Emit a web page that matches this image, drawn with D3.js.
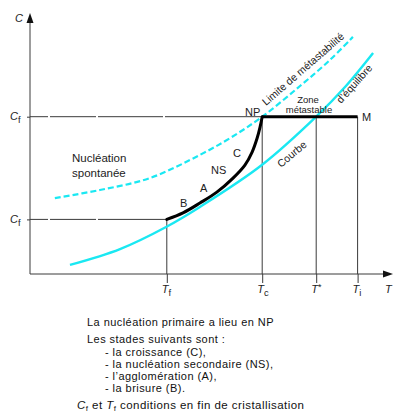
<!DOCTYPE html>
<html>
<head>
<meta charset="utf-8">
<script src="https://cdn.jsdelivr.net/npm/d3@7/dist/d3.min.js"></script>
<style>
  html, body { margin: 0; padding: 0; background: #fff; }
  svg { display: block; font-family: "Liberation Sans", Arial, sans-serif; }
</style>
</head>
<body>
<svg id="chart" width="395" height="412"></svg>
<script>
// Characteristic temperatures and concentrations (arbitrary units, 0-100)
const tempNames = ["Tf", "Tc", "T*", "Ti"];
const tempValues = [38, 64.5, 79.5, 91];
const concNames = ["Cf", "Ci"];
const concValues = [21, 60.5];

// Curve of equilibrium (solubility)
const eqT = [11.1, 25, 37.8, 47.2, 64.4, 79.5, 87.5, 95.3];
const eqC = [3.5, 9.6, 18.1, 25.8, 41.9, 60.5, 71.9, 85.0];

// Limit of metastability (supersolubility)
const limT = [6.9, 19.4, 33.3, 47.2, 55.6, 64.5, 75, 83.3, 89.7];
const limC = [29.2, 32.3, 36.9, 45.8, 52.3, 60.5, 72.3, 82.3, 91.2];

// Crystallisation path from NP down to the final point (Tf, Cf)
const pathT = [38, 42.5, 47.2, 51.9, 56.4, 59.7, 61.7, 63.1, 63.9, 64.5];
const pathC = [21, 23.5, 27.3, 31.5, 36.9, 41.9, 46.9, 52.3, 56.5, 60.5];

const svg = d3.select("#chart");
const x = d3.scaleLinear().domain([0, 100]).range([30, 390]);
const y = d3.scaleLinear().domain([0, 100]).range([274, 14]);

const ink = "#3a3a3a";
const cyan = "#1ae8f2";
const zip = (a, b) => a.map((v, i) => [v, b[i]]);
const line = d3.line().x(d => x(d[0])).y(d => y(d[1])).curve(d3.curveCatmullRom.alpha(0.5));

const T = Object.fromEntries(tempNames.map((n, i) => [n, tempValues[i]]));
const C = Object.fromEntries(concNames.map((n, i) => [n, concValues[i]]));

// Guide lines
const guide = svg.append("g").attr("stroke", ink).attr("stroke-width", 1).attr("fill", "none");
guide.append("line").attr("x1", x(0)).attr("x2", x(T.Tc)).attr("y1", y(C.Ci)).attr("y2", y(C.Ci))
  .attr("stroke-dasharray", "18,2,46,2,65,2,400");
guide.append("line").attr("x1", x(0)).attr("x2", x(T.Tf)).attr("y1", y(C.Cf)).attr("y2", y(C.Cf))
  .attr("stroke-dasharray", "18,2,46,2,400");
[["Tf", "Cf"], ["Tc", "Ci"], ["T*", "Ci"], ["Ti", "Ci"]].forEach(([t, c]) => {
  guide.append("line").attr("x1", x(T[t])).attr("x2", x(T[t])).attr("y1", y(C[c])).attr("y2", y(0));
});

// Axes
const xAxis = d3.axisBottom(x).tickValues(tempValues).tickSize(9).tickFormat("");
const gx = svg.append("g").attr("transform", `translate(0,${y(0)})`).call(xAxis);
gx.select(".domain").attr("d", `M${x(0)},0H${x(100) - 4}`).attr("stroke", ink);
gx.selectAll(".tick line").attr("stroke", ink);

const yAxis = d3.axisLeft(y).tickValues(concValues).tickSize(3).tickFormat("");
const gy = svg.append("g").attr("transform", `translate(${x(0)},0)`).call(yAxis);
gy.select(".domain").attr("d", `M0,${y(0)}V${y(100) + 4}`).attr("stroke", ink);
gy.selectAll(".tick line").attr("stroke", ink);

// Arrow heads
svg.append("path").attr("d", `M${x(0) - 3.5},${y(100) + 9}L${x(0)},${y(100) - 1}L${x(0) + 3.5},${y(100) + 9}Z`).attr("fill", "#111");
svg.append("path").attr("d", `M${x(100) - 7},${y(0) - 3.5}L${x(100) + 3},${y(0)}L${x(100) - 7},${y(0) + 3.5}Z`).attr("fill", "#111");

// Curves
svg.append("path").attr("d", line(zip(limT, limC))).attr("fill", "none")
  .attr("stroke", cyan).attr("stroke-width", 2.2).attr("stroke-dasharray", "6,3");
svg.append("path").attr("d", line(zip(eqT, eqC))).attr("fill", "none")
  .attr("stroke", cyan).attr("stroke-width", 2.4);
svg.append("path").attr("d", line(zip(pathT, pathC))).attr("fill", "none")
  .attr("stroke", "#000").attr("stroke-width", 3).attr("stroke-linecap", "round");
svg.append("line").attr("x1", x(T.Tc)).attr("x2", x(T.Ti)).attr("y1", y(C.Ci)).attr("y2", y(C.Ci))
  .attr("stroke", "#000").attr("stroke-width", 3);

// Axis labels with subscripts
const txt = svg.append("g").attr("fill", "#222");
function subLabel(g, px, py, main, sub, size, anchor) {
  const t = g.append("text").attr("x", px).attr("y", py).attr("font-size", size).attr("text-anchor", anchor || "start");
  t.append("tspan").attr("font-style", "italic").text(main);
  if (sub) t.append("tspan").attr("dy", 3).attr("font-size", size * 0.85).text(sub);
  return t;
}
const tSub = { "Tf": "f", "Tc": "c", "T*": "", "Ti": "i" };
tempNames.forEach((n, i) => {
  if (n === "T*") {
    subLabel(txt, x(tempValues[i]) - 5, 293, "T", "", 11).append("tspan").attr("font-size", 9).attr("dy", -3).text("*");
  } else {
    subLabel(txt, x(tempValues[i]) - 5, 293, "T", tSub[n], 11);
  }
});
subLabel(txt, 385, 293, "T", "", 11);
subLabel(txt, 15, 22, "C", "", 11);
subLabel(txt, 10, 120, "C", "f", 11);
subLabel(txt, 10, 223, "C", "f", 11);

// Annotations
const ann = (px, py, s, size, opts = {}) => {
  const t = txt.append("text").attr("x", px).attr("y", py).attr("font-size", size).text(s);
  if (opts.anchor) t.attr("text-anchor", opts.anchor);
  if (opts.rot !== undefined) t.attr("transform", `rotate(${opts.rot},${px},${py})`);
  return t;
};
ann(72, 162, "Nucléation", 11.5);
ann(72, 177, "spontanée", 11.5);
ann(180, 207, "B", 11);
ann(200, 192, "A", 11);
ann(211, 174, "NS", 11);
ann(233, 157, "C", 11);
ann(245, 116, "NP", 11);
ann(362, 121, "M", 11);
ann(308, 103, "Zone", 9.5, { anchor: "middle" });
ann(309, 113, "métastable", 9.5, { anchor: "middle" });
ann(266, 106, "Limite de métastabilité", 10.5, { rot: -41 });
ann(341, 104, "d’équilibre", 10.5, { rot: -48 });
ann(281, 168, "Courbe", 10.5, { rot: -40 });

// Caption
const cap = svg.append("g").attr("fill", "#111").attr("font-size", 11).attr("letter-spacing", 0.45);
cap.append("text").attr("x", 87).attr("y", 326).text("La nucléation primaire a lieu en NP");
cap.append("text").attr("x", 87).attr("y", 343).text("Les stades suivants sont :");
["- la croissance (C),", "- la nucléation secondaire (NS),", "- l’agglomération (A),", "- la brisure (B)."]
  .forEach((s, i) => cap.append("text").attr("x", 105).attr("y", 356 + i * 12).text(s));
const last = cap.append("text").attr("x", 77).attr("y", 409).attr("font-size", 11.5);
last.append("tspan").attr("font-style", "italic").text("C");
last.append("tspan").attr("font-size", 8).attr("dy", 2).text("f");
last.append("tspan").attr("dy", -2).text(" et ");
last.append("tspan").attr("font-style", "italic").text("T");
last.append("tspan").attr("font-size", 8).attr("dy", 2).text("f");
last.append("tspan").attr("dy", -2).text(" conditions en fin de cristallisation");
</script>
</body>
</html>
